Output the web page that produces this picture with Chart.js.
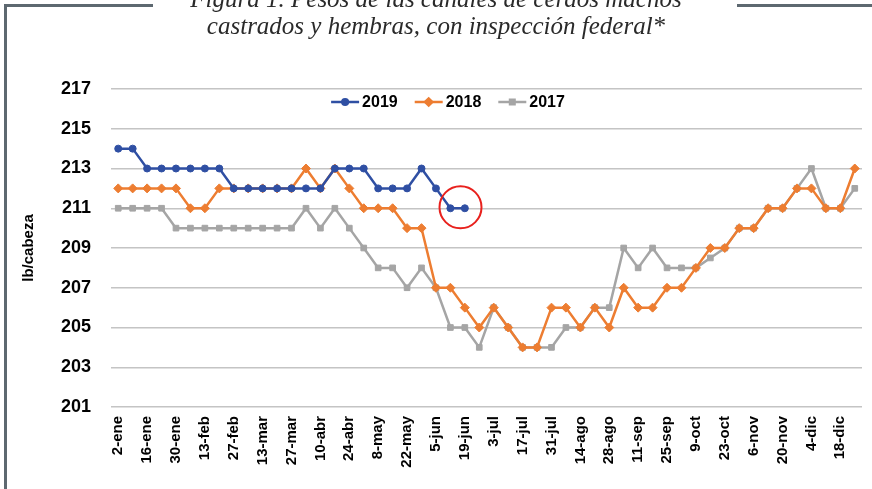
<!DOCTYPE html>
<html>
<head>
<meta charset="utf-8">
<script src="https://cdn.jsdelivr.net/npm/chart.js@4/dist/chart.umd.min.js"></script>
<style>
  html, body { margin: 0; padding: 0; background: #fff; }
  #wrap { position: relative; width: 872px; height: 489px; overflow: hidden; }
  #chart { position: absolute; left: 0; top: 0; }
  .frame { position: absolute; background: #5d6870; }
  .title {
    position: absolute; left: 0; width: 872px; text-align: center;
    font-family: 'Liberation Serif', serif; font-style: italic; font-size: 25px;
    color: #2a2a2a; white-space: nowrap; line-height: 26px;
  }
</style>
</head>
<body>
<div id="wrap">
  <canvas id="chart" width="872" height="489"></canvas>
  <div class="frame" style="left:4px; top:4px; width:149px; height:3px;"></div>
  <div class="frame" style="left:737px; top:4px; width:135px; height:3px;"></div>
  <div class="frame" style="left:4px; top:4px; width:3px; height:485px;"></div>
  <div class="title" style="top:-14px;">Figura 1. Pesos de las canales de cerdos machos</div>
  <div class="title" style="top:13px;">castrados y hembras, con inspección federal*</div>
</div>
<script>
// --- Data ---
const weekLabels = [
  '2-ene', '9-ene', '16-ene', '23-ene', '30-ene', '6-feb', '13-feb', '20-feb', '27-feb',
  '6-mar', '13-mar', '20-mar', '27-mar', '3-abr', '10-abr', '17-abr', '24-abr',
  '1-may', '8-may', '15-may', '22-may', '29-may', '5-jun', '12-jun', '19-jun', '26-jun',
  '3-jul', '10-jul', '17-jul', '24-jul', '31-jul', '7-ago', '14-ago', '21-ago', '28-ago',
  '4-sep', '11-sep', '18-sep', '25-sep', '2-oct', '9-oct', '16-oct', '23-oct', '30-oct',
  '6-nov', '13-nov', '20-nov', '27-nov', '4-dic', '11-dic', '18-dic', '25-dic'
];

const yTicks = [201, 203, 205, 207, 209, 211, 213, 215, 217];

const peso2019 = [
  214, 214, 213, 213, 213, 213, 213, 213, 212, 212, 212, 212, 212, 212, 212,
  213, 213, 213, 212, 212, 212, 213, 212, 211, 211
];

const peso2018 = [
  212, 212, 212, 212, 212, 211, 211, 212, 212, 212, 212, 212, 212, 213, 212,
  213, 212, 211, 211, 211, 210, 210, 207, 207, 206, 205, 206, 205, 204, 204,
  206, 206, 205, 206, 205, 207, 206, 206, 207, 207, 208, 209, 209, 210, 210,
  211, 211, 212, 212, 211, 211, 213
];

const peso2017 = [
  211, 211, 211, 211, 210, 210, 210, 210, 210, 210, 210, 210, 210, 211, 210,
  211, 210, 209, 208, 208, 207, 208, 207, 205, 205, 204, 206, 205, 204, 204,
  204, 205, 205, 206, 206, 209, 208, 209, 208, 208, 208, 208.5, 209, 210, 210,
  211, 211, 212, 213, 211, 211, 212
];

// red circle marking the last 2019 reading
const highlight = { index: 23.7, value: 211.05, radius: 21 };

const blue = '#2f4fa3';
const orange = '#ed7d31';
const gray = '#a5a5a5';

// --- Plugins ---
const innerLegend = {
  id: 'innerLegend',
  afterDraw(chart) {
    const ctx = chart.ctx;
    const y = 102;
    const lineLen = 28;
    const gap = 3;
    const itemGap = 17;
    ctx.save();
    ctx.font = 'bold 16px "Liberation Sans", Arial, sans-serif';
    ctx.textBaseline = 'middle';
    const sets = chart.data.datasets.filter(ds => ds.label);
    const widths = sets.map(ds => lineLen + gap + ctx.measureText(ds.label).width);
    const total = widths.reduce((a, b) => a + b, 0) + itemGap * (sets.length - 1);
    let x = 448 - total / 2;
    sets.forEach((ds, i) => {
      ctx.strokeStyle = ds.borderColor;
      ctx.lineWidth = 2.5;
      ctx.beginPath();
      ctx.moveTo(x, y);
      ctx.lineTo(x + lineLen, y);
      ctx.stroke();
      ctx.fillStyle = ds.borderColor;
      Chart.helpers.drawPoint(ctx, {
        pointStyle: ds.pointStyle, radius: ds.pointRadius * 0.8, borderWidth: 1, rotation: 0
      }, x + lineLen / 2, y);
      ctx.fillStyle = '#000';
      ctx.fillText(ds.label, x + lineLen + gap, y + 1);
      x += widths[i] + itemGap;
    });
    ctx.restore();
  }
};

const circleMark = {
  id: 'circleMark',
  afterDatasetsDraw(chart) {
    const { ctx, scales } = chart;
    const cx = scales.x.getPixelForValue(highlight.index);
    const cy = scales.y.getPixelForValue(highlight.value);
    ctx.save();
    ctx.strokeStyle = '#e8211d';
    ctx.lineWidth = 2;
    ctx.beginPath();
    ctx.arc(cx, cy, highlight.radius, 0, Math.PI * 2);
    ctx.stroke();
    ctx.restore();
  }
};

function series(label, data, color, style, radius) {
  return {
    label,
    data,
    borderColor: color,
    backgroundColor: color,
    pointBackgroundColor: color,
    pointBorderColor: color,
    pointStyle: style,
    pointRadius: radius,
    pointBorderWidth: 1,
    borderWidth: 2.5,
    tension: 0,
    spanGaps: false
  };
}

// 2017 drawn first so 2018 and 2019 sit on top
new Chart(document.getElementById('chart'), {
  type: 'line',
  data: {
    labels: weekLabels,
    datasets: [
      Object.assign(series('2019', peso2019, blue, 'circle', 3.5), { order: 1 }),
      Object.assign(series('2018', peso2018, orange, 'rectRot', 4.5), { order: 2 }),
      Object.assign(series('2017', peso2017, gray, 'rect', 4), { order: 3 })
    ]
  },
  options: {
    responsive: false,
    animation: false,
    layout: { padding: { left: 16, right: 10, top: 89, bottom: 0 } },
    plugins: {
      legend: { display: false },
      tooltip: { enabled: false }
    },
    scales: {
      x: {
        offset: true,
        grid: { display: false, drawTicks: false },
        border: { display: false },
        ticks: {
          autoSkip: false,
          minRotation: 90,
          maxRotation: 90,
          padding: 9,
          color: '#000',
          font: { family: '"Liberation Sans", Arial, sans-serif', size: 15, weight: 'bold' },
          callback: (val, i) => (i % 2 === 0 ? weekLabels[i] : '')
        },
        afterFit: scale => {
          scale.height = 82;
          scale.paddingLeft = 0;
          scale.paddingRight = 0;
        }
      },
      y: {
        min: 201,
        max: 217,
        afterBuildTicks: scale => { scale.ticks = yTicks.map(v => ({ value: v })); },
        grid: { color: '#c4c4c4', lineWidth: 1.5, drawTicks: false },
        border: { display: false },
        ticks: {
          padding: 20,
          color: '#000',
          font: { family: '"Liberation Sans", Arial, sans-serif', size: 18, weight: 'bold' }
        },
        title: {
          display: true,
          text: 'lb/cabeza',
          color: '#000',
          font: { family: '"Liberation Sans", Arial, sans-serif', size: 15, weight: 'bold' }
        },
        afterFit: scale => { scale.width = 95; }
      }
    }
  },
  plugins: [circleMark, innerLegend]
});
</script>
</body>
</html>
